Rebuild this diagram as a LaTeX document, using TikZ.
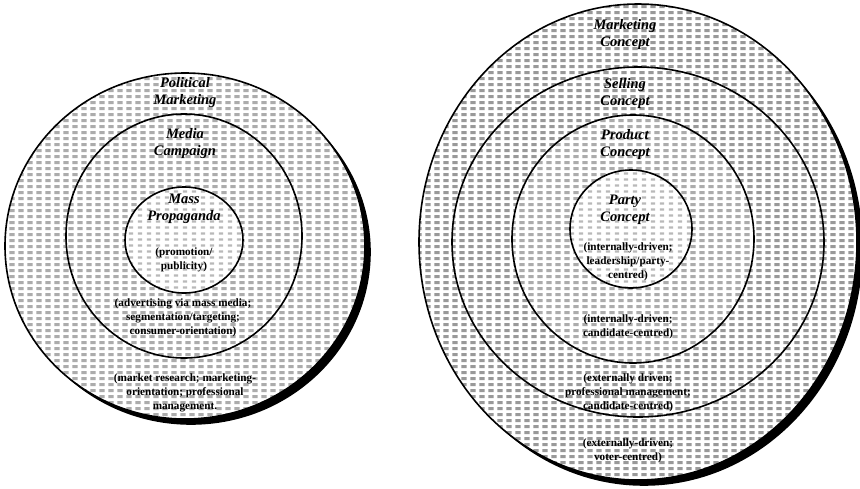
\documentclass[tikz,border=0pt]{standalone}
\usepackage{fontspec}
\setmainfont{Liberation Serif}
\usetikzlibrary{patterns,shapes.geometric}

% coarse grey blots in rows, like a screen tint
\pgfdeclarepatternformonly{blots}{\pgfqpoint{0pt}{0pt}}{\pgfqpoint{8.5pt}{6pt}}{\pgfqpoint{8.5pt}{6pt}}{%
  \pgfpathrectangle{\pgfqpoint{0.5pt}{1pt}}{\pgfqpoint{5.5pt}{3.6pt}}%
  \pgfusepath{fill}}
% finer, sparser marks for the inner fields
\pgfdeclarepatternformonly{specks}{\pgfqpoint{0pt}{0pt}}{\pgfqpoint{8.5pt}{6pt}}{\pgfqpoint{8.5pt}{6pt}}{%
  \pgfpathrectangle{\pgfqpoint{1pt}{1.5pt}}{\pgfqpoint{4.5pt}{2.6pt}}%
  \pgfusepath{fill}}

\tikzset{
  ring/.style={ellipse, draw=black, line width=1.6pt, inner sep=0pt,
    preaction={fill=white}},
  dark/.style={ring, pattern=blots, pattern color=gray!80},
  mid/.style={ring, pattern=blots, pattern color=gray!65},
  light/.style={ring, pattern=specks, pattern color=gray!55},
  backdisc/.style={ellipse, fill=black, draw=black, line width=1.6pt, inner sep=0pt},
  title/.style={font=\fontsize{14.5}{17}\selectfont\bfseries\itshape, align=center, inner sep=0pt},
  note/.style={font=\fontsize{11.2}{14}\selectfont\bfseries, align=center, inner sep=0pt}
}

\begin{document}
\begin{tikzpicture}[x=1pt, y=-1pt]
\useasboundingbox (0,0) rectangle (860,488);

% ---- left: political marketing ----
\node[backdisc, minimum width=358pt, minimum height=344pt] (lsh) at (191,252) {};
\node[mid,   minimum width=360pt, minimum height=346pt] (lo) at (185,246) {};
\node[mid,   minimum width=236pt, minimum height=244pt] (lm) at (184,236) {};
\node[light, minimum width=118pt, minimum height=106pt] (li) at (184,240) {};

\node[title] (lt1) at (185,93)  {Political\\Marketing};
\node[title] (lt2) at (185,144) {Media\\Campaign};
\node[title] (lt3) at (184,209) {Mass\\Propaganda};
\node[note]  (ld3) at (184,260) {(promotion/\\publicity)};
\node[note]  (ld2) at (183,318) {(advertising via mass media;\\segmentation/targeting;\\consumer-orientation)};
\node[note]  (ld1) at (185,393) {(market research; marketing-\\orientation; professional\\management.};

% ---- right: the four concepts ----
\node[backdisc, minimum width=436pt, minimum height=474pt] (rsh) at (644,248) {};
\node[dark,  minimum width=438pt, minimum height=476pt] (ro)  at (638,242) {};
\node[dark,  minimum width=372pt, minimum height=350pt] (rs)  at (638,242) {};
\node[mid,   minimum width=242pt, minimum height=248pt] (rp)  at (633,239) {};
\node[light, minimum width=122pt, minimum height=118pt] (rc)  at (631,229) {};

\node[title] (rt1) at (625,35)  {Marketing\\Concept};
\node[title] (rt2) at (625,94)  {Selling\\Concept};
\node[title] (rt3) at (625,145) {Product\\Concept};
\node[title] (rt4) at (625,210) {Party\\Concept};
\node[note]  (rd4) at (628,262) {(internally-driven;\\leadership/party-\\centred)};
\node[note]  (rd3) at (628,327) {(internally-driven;\\candidate-centred)};
\node[note]  (rd2) at (628,393) {(externally driven;\\professional management;\\candidate-centred)};
\node[note]  (rd1) at (628,451) {(externally-driven;\\voter-centred)};
\end{tikzpicture}
\end{document}
